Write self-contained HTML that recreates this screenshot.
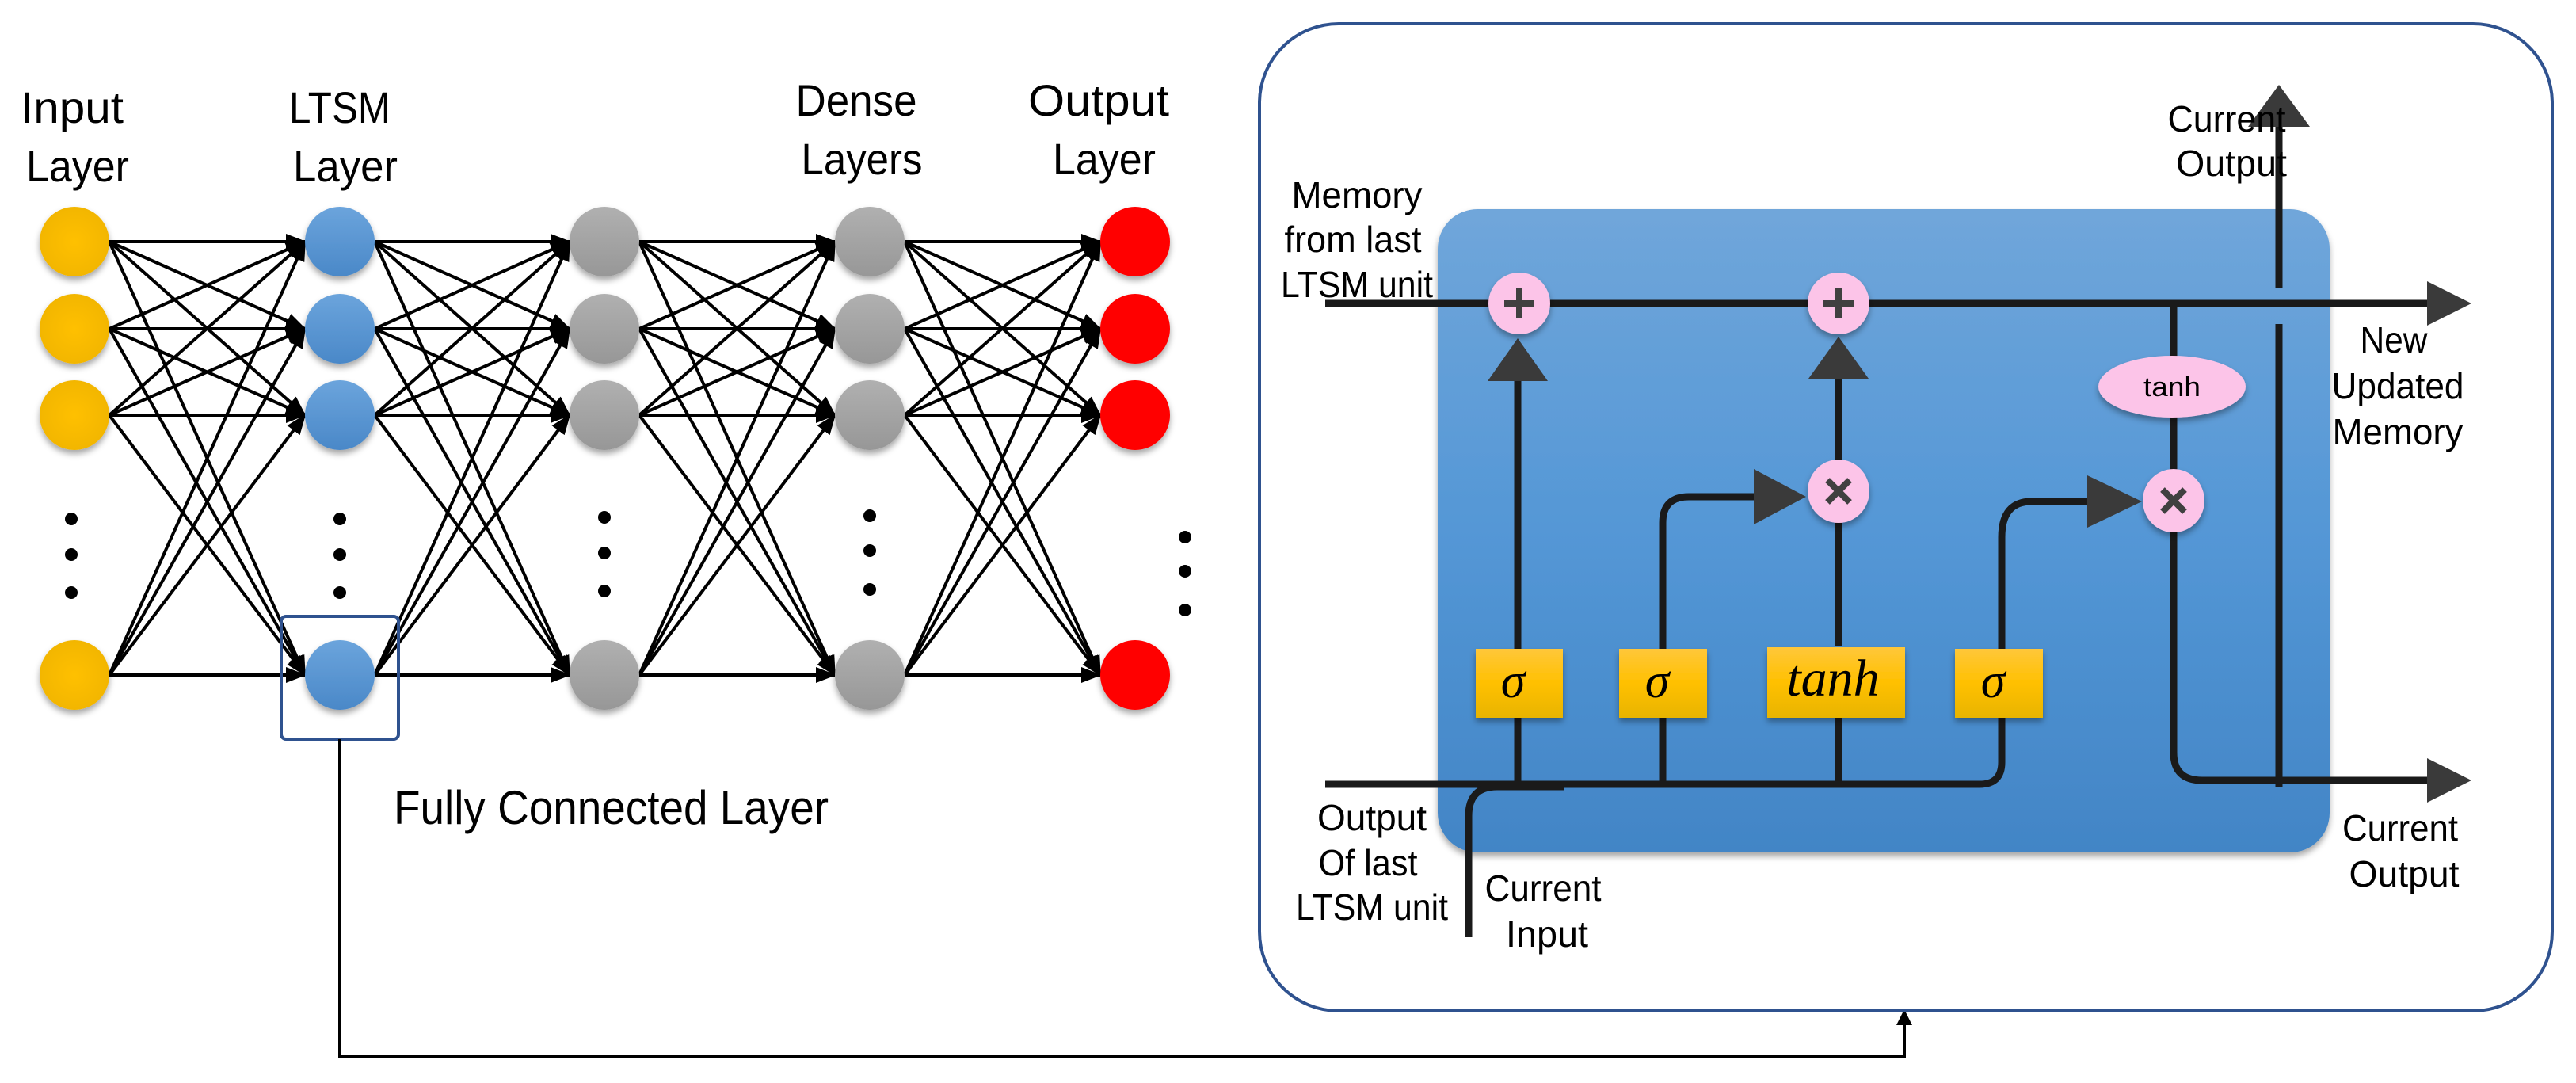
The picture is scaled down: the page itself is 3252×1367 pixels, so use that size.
<!DOCTYPE html>
<html><head><meta charset="utf-8"><style>
html,body{margin:0;padding:0;background:#fff;}
svg{display:block;}
text{font-family:"Liberation Sans",sans-serif;fill:#000;}
.lb{font-size:56px;}
.rl{font-size:46px;}
.sg{font-family:"Liberation Serif",serif;font-style:italic;font-size:62px;}
</style></head><body>
<svg id="s" width="3252" height="1367" viewBox="0 0 3252 1367" xmlns="http://www.w3.org/2000/svg">
<defs>
<marker id="ah" markerUnits="userSpaceOnUse" markerWidth="26" markerHeight="20" refX="24" refY="10" orient="auto">
<path d="M0,0 L26,10 L0,20 z" fill="#000"/></marker>
<radialGradient id="gy" cx="50%" cy="50%" r="60%"><stop offset="0" stop-color="#ffc000"/><stop offset="1" stop-color="#f0b400"/></radialGradient>
<linearGradient id="gyl" x1="0" y1="0" x2="0" y2="1"><stop offset="0" stop-color="#ffc73a"/><stop offset=".5" stop-color="#ffc000"/><stop offset="1" stop-color="#e8b400"/></linearGradient>
<linearGradient id="gb" x1="0" y1="0" x2="0" y2="1"><stop offset="0" stop-color="#6ba4dc"/><stop offset="1" stop-color="#4a88c8"/></linearGradient>
<linearGradient id="gg" x1="0" y1="0" x2="0" y2="1"><stop offset="0" stop-color="#b0b0b0"/><stop offset="1" stop-color="#979797"/></linearGradient>
<linearGradient id="gbox" x1="0" y1="0" x2="0" y2="1"><stop offset="0" stop-color="#70a6da"/><stop offset=".5" stop-color="#5497d6"/><stop offset="1" stop-color="#4285c6"/></linearGradient>
<filter id="sh" x="-30%" y="-30%" width="160%" height="170%"><feDropShadow dx="0" dy="5" stdDeviation="4" flood-color="#000" flood-opacity=".35"/></filter>
</defs>

<!-- left labels -->
<text class="lb" x="91" y="155" text-anchor="middle" textLength="130" lengthAdjust="spacingAndGlyphs">Input</text>
<text class="lb" x="98" y="229" text-anchor="middle" textLength="130" lengthAdjust="spacingAndGlyphs">Layer</text>
<text class="lb" x="429" y="155" text-anchor="middle" textLength="128" lengthAdjust="spacingAndGlyphs">LTSM</text>
<text class="lb" x="436" y="229" text-anchor="middle" textLength="132" lengthAdjust="spacingAndGlyphs">Layer</text>
<text class="lb" x="1081" y="146" text-anchor="middle" textLength="153" lengthAdjust="spacingAndGlyphs">Dense</text>
<text class="lb" x="1088" y="220" text-anchor="middle" textLength="153" lengthAdjust="spacingAndGlyphs">Layers</text>
<text class="lb" x="1387" y="146" text-anchor="middle" textLength="178" lengthAdjust="spacingAndGlyphs">Output</text>
<text class="lb" x="1394" y="220" text-anchor="middle" textLength="130" lengthAdjust="spacingAndGlyphs">Layer</text>
<text x="497" y="1040" style="font-size:60px" textLength="549" lengthAdjust="spacingAndGlyphs">Fully Connected Layer</text>

<g id="edges" stroke="#000" stroke-width="4" fill="none"></g>
<g id="nodes"></g>

<!-- selection box and connector -->
<rect x="355" y="778" width="148" height="155" rx="6" fill="none" stroke="#2f528f" stroke-width="4"/>
<polyline points="429,933 429,1334 2404,1334 2404,1290" fill="none" stroke="#000" stroke-width="4"/>
<path d="M2394,1294 L2404,1274 L2414,1294 z" fill="#000"/>

<!-- outer rounded rect -->
<rect x="1590" y="30" width="1632" height="1246" rx="100" fill="none" stroke="#2f528f" stroke-width="4"/>

<!-- inner blue -->
<rect x="1815" y="264" width="1126" height="812" rx="50" fill="url(#gbox)" filter="url(#sh)"/>

<g stroke="#1a1a1a" stroke-width="9" fill="none" stroke-linecap="butt">
<!-- memory line -->
<line x1="1673" y1="383" x2="3070" y2="383"/>
<!-- bottom input line -->
<path d="M1673,990 L2499,990 Q2527,990 2527,962 L2527,906"/>
<!-- current input -->
<path d="M1854,1183 L1854,1030 Q1854,993 1890,993 L1974,993"/>
<!-- vertical to gates -->
<line x1="1916" y1="990" x2="1916" y2="906"/>
<line x1="2099" y1="990" x2="2099" y2="906"/>
<line x1="2321" y1="990" x2="2321" y2="906"/>
<!-- sigma1 up -->
<line x1="1916" y1="819" x2="1916" y2="480"/>
<!-- sigma2 to x -->
<path d="M2099,819 L2099,660 Q2099,627 2132,627 L2220,627"/>
<!-- tanh to x -->
<line x1="2321" y1="816" x2="2321" y2="650"/>
<line x1="2321" y1="590" x2="2321" y2="478"/>
<!-- sigma4 to x -->
<path d="M2527,819 L2527,678 Q2527,633 2565,633 L2640,633"/>
<!-- vertical right -->
<path d="M2744,383 L2744,950 Q2744,985 2780,985 L3070,985"/>
<line x1="2877" y1="409" x2="2877" y2="993"/>
<line x1="2877" y1="364" x2="2877" y2="158"/>
</g>
<!-- arrowheads -->
<g fill="#3a3a3a">
<path d="M3064,355 L3120,383 L3064,411 z"/>
<path d="M3064,957 L3120,985 L3064,1013 z"/>
<path d="M2838,160 L2877,107 L2916,160 z"/>
<path d="M1878,481 L1916,427 L1954,481 z"/>
<path d="M2283,478 L2321,425 L2359,478 z"/>
<path d="M2214,592 L2280,627 L2214,662 z"/>
<path d="M2635,600 L2704,633 L2635,666 z"/>
</g>
<!-- pink nodes -->
<g fill="#fcc4e8" filter="url(#sh)">
<ellipse cx="1918" cy="383" rx="39" ry="39"/>
<ellipse cx="2321" cy="383" rx="39" ry="39"/>
<ellipse cx="2321" cy="620" rx="39" ry="40"/>
<ellipse cx="2744" cy="632" rx="39" ry="40"/>
<ellipse cx="2742" cy="488" rx="93" ry="39"/>
</g>
<g stroke="#404040" stroke-width="8">
<line x1="1918" y1="364" x2="1918" y2="402"/><line x1="1899" y1="383" x2="1937" y2="383"/>
<line x1="2321" y1="364" x2="2321" y2="402"/><line x1="2302" y1="383" x2="2340" y2="383"/>
<line x1="2307" y1="606" x2="2335" y2="634"/><line x1="2335" y1="606" x2="2307" y2="634"/>
<line x1="2730" y1="618" x2="2758" y2="646"/><line x1="2758" y1="618" x2="2730" y2="646"/>
</g>
<text x="2742" y="500" text-anchor="middle" style="font-size:34px" textLength="72" lengthAdjust="spacingAndGlyphs">tanh</text>

<!-- gate boxes -->
<g fill="url(#gyl)" filter="url(#sh)">
<rect x="1863" y="819" width="110" height="87"/>
<rect x="2044" y="819" width="111" height="87"/>
<rect x="2231" y="817" width="174" height="89"/>
<rect x="2468" y="819" width="111" height="87"/>
</g>
<text class="sg" x="1910" y="880" text-anchor="middle">σ</text>
<text class="sg" x="2092" y="880" text-anchor="middle">σ</text>
<text class="sg" x="2314" y="878" text-anchor="middle" style="font-size:66px">tanh</text>
<text class="sg" x="2516" y="880" text-anchor="middle">σ</text>

<!-- right labels -->
<g class="rl" text-anchor="middle">
<text class="rl" x="1713" y="262" text-anchor="middle" textLength="165" lengthAdjust="spacingAndGlyphs">Memory</text>
<text class="rl" x="1708" y="318" text-anchor="middle" textLength="173" lengthAdjust="spacingAndGlyphs">from last</text>
<text class="rl" x="1713" y="375" text-anchor="middle" textLength="192" lengthAdjust="spacingAndGlyphs">LTSM unit</text>
<text class="rl" x="2811" y="166" text-anchor="middle" textLength="149" lengthAdjust="spacingAndGlyphs">Current</text>
<text class="rl" x="2817" y="222" text-anchor="middle" textLength="140" lengthAdjust="spacingAndGlyphs">Output</text>
<text class="rl" x="3022" y="445" text-anchor="middle" textLength="85" lengthAdjust="spacingAndGlyphs">New</text>
<text class="rl" x="3027" y="503" text-anchor="middle" textLength="167" lengthAdjust="spacingAndGlyphs">Updated</text>
<text class="rl" x="3027" y="561" text-anchor="middle" textLength="165" lengthAdjust="spacingAndGlyphs">Memory</text>
<text class="rl" x="3030" y="1061" text-anchor="middle" textLength="146" lengthAdjust="spacingAndGlyphs">Current</text>
<text class="rl" x="3035" y="1119" text-anchor="middle" textLength="139" lengthAdjust="spacingAndGlyphs">Output</text>
<text class="rl" x="1732" y="1048" text-anchor="middle" textLength="138" lengthAdjust="spacingAndGlyphs">Output</text>
<text class="rl" x="1727" y="1105" text-anchor="middle" textLength="125" lengthAdjust="spacingAndGlyphs">Of last</text>
<text class="rl" x="1732" y="1161" text-anchor="middle" textLength="192" lengthAdjust="spacingAndGlyphs">LTSM unit</text>
<text class="rl" x="1948" y="1137" text-anchor="middle" textLength="147" lengthAdjust="spacingAndGlyphs">Current</text>
<text class="rl" x="1953" y="1195" text-anchor="middle" textLength="104" lengthAdjust="spacingAndGlyphs">Input</text>
</g>
</svg>
<script>
(function(){
var NS="http://www.w3.org/2000/svg";
var xs=[94,429,763,1098,1433], ys=[305,415,524,852];
var fills=["url(#gy)","url(#gb)","url(#gg)","url(#gg)","#ff0000"];
var E=document.getElementById("edges"), N=document.getElementById("nodes");
for(var l=0;l<4;l++)for(var i=0;i<4;i++)for(var j=0;j<4;j++){
 var ln=document.createElementNS(NS,"line");
 ln.setAttribute("x1",xs[l]+44);ln.setAttribute("y1",ys[i]);
 ln.setAttribute("x2",xs[l+1]-44);ln.setAttribute("y2",ys[j]);
 ln.setAttribute("marker-end","url(#ah)");E.appendChild(ln);}
for(var l=0;l<5;l++)for(var i=0;i<4;i++){
 var c=document.createElementNS(NS,"ellipse");
 c.setAttribute("cx",xs[l]);c.setAttribute("cy",ys[i]);c.setAttribute("rx",44);c.setAttribute("ry",44);
 c.setAttribute("fill",fills[l]);c.setAttribute("filter","url(#sh)");N.appendChild(c);}
var dots=[[90,[655,700,748]],[429,[655,700,748]],[763,[653,698,746]],[1098,[651,695,744]],[1496,[678,721,770]]];
dots.forEach(function(d){d[1].forEach(function(y){
 var c=document.createElementNS(NS,"circle");c.setAttribute("cx",d[0]);c.setAttribute("cy",y);c.setAttribute("r",8);c.setAttribute("fill","#000");N.appendChild(c);});});
})();
</script>
</body></html>
